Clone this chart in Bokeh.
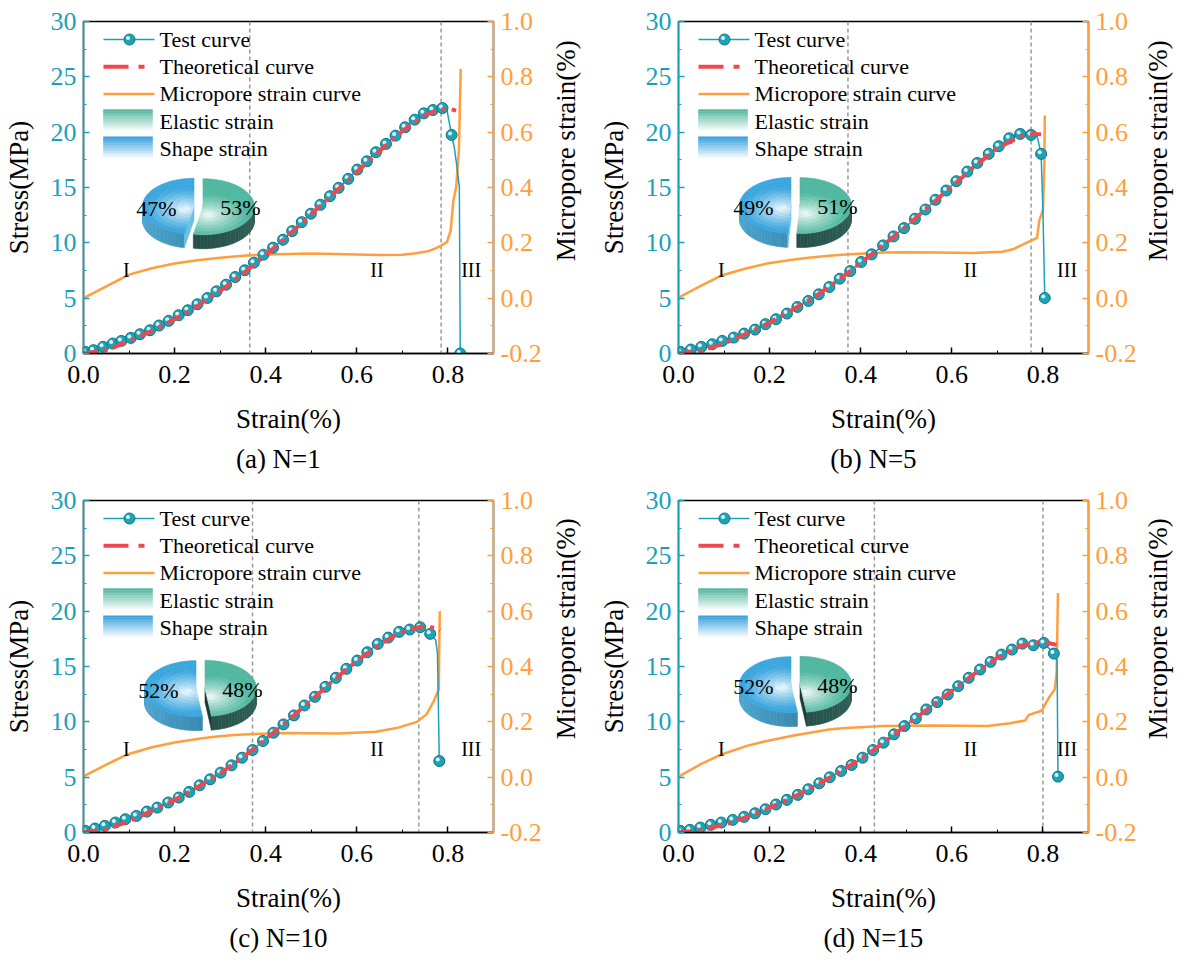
import math
import numpy as np

from bokeh.core.properties import value
from bokeh.embed import file_html
from bokeh.layouts import gridplot
from bokeh.models import (LinearAxis, PrintfTickFormatter, Range1d,
                          SingleIntervalTicker, Span, Title)
from bokeh.plotting import figure
from bokeh.resources import INLINE

FONT = "Liberation Serif"
TEAL = "#1b9fbd"
ORANGE = "#ff9e3d"
RED = "#ef474f"
MARK = "#1ea2b6"
MARK_EDGE = "#0d7688"

# ------------------------------------------------------------------ data
captions = ["(a) N=1", "(b) N=5", "(c) N=10", "(d) N=15"]
shape_share = [47, 49, 52, 52]
elastic_share = [53, 51, 48, 48]
stage_bounds = [[0.365, 0.785], [0.372, 0.774], [0.371, 0.736], [0.430, 0.800]]
stage_names = ["I", "II", "III"]
stage_label_x = [[0.094, 0.644, 0.851], [0.094, 0.641, 0.853],
                 [0.094, 0.644, 0.851], [0.094, 0.641, 0.853]]
stage_label_y = 7.55

# (a) N=1
test_strain_a = [0.004, 0.022, 0.043, 0.064, 0.083, 0.104, 0.124, 0.146, 0.166, 0.187,
                 0.209, 0.229, 0.250, 0.272, 0.292, 0.313, 0.333, 0.354, 0.374, 0.395,
                 0.416, 0.438, 0.458, 0.479, 0.499, 0.520, 0.541, 0.560, 0.581, 0.601,
                 0.622, 0.642, 0.664, 0.685, 0.706, 0.727, 0.747, 0.767, 0.788, 0.808, 0.827]
test_stress_a = [0.15, 0.30, 0.60, 0.90, 1.14, 1.41, 1.74, 2.10, 2.53, 2.95,
                 3.46, 3.91, 4.45, 5.02, 5.62, 6.22, 6.91, 7.52, 8.21, 8.93,
                 9.56, 10.28, 11.06, 11.87, 12.63, 13.44, 14.22, 14.97, 15.78, 16.62,
                 17.37, 18.19, 18.94, 19.69, 20.44, 21.13, 21.70, 22.00, 22.18, 19.75, 0.0]
drop_strain_a = [0.798, 0.814, 0.820, 0.825]
drop_stress_a = [21.94, 18.6, 16.8, 15.0]
theory_strain_a = [0, 0.05, 0.1, 0.15, 0.2, 0.25, 0.3, 0.35, 0.4, 0.45, 0.5, 0.55,
                   0.6, 0.65, 0.7, 0.75, 0.78, 0.8, 0.818]
theory_stress_a = [0, 0.3, 1.1, 2.05, 3.1, 4.3, 5.65, 7.2, 8.9, 10.7, 12.6, 14.5,
                   16.4, 18.3, 20.1, 21.55, 22.05, 22.15, 21.95]
pore_strain_a = [0.0, 0.05, 0.1, 0.15, 0.2, 0.25, 0.3, 0.35, 0.4, 0.45, 0.5, 0.55, 0.6,
                 0.65, 0.7, 0.73, 0.757, 0.773, 0.785, 0.798, 0.806, 0.812, 0.818, 0.824, 0.828]
pore_value_a = [0.0, 0.043, 0.085, 0.108, 0.125, 0.137, 0.146, 0.153, 0.158, 0.16, 0.161,
                0.16, 0.158, 0.156, 0.157, 0.162, 0.170, 0.18, 0.19, 0.203, 0.245, 0.353,
                0.40, 0.533, 0.828]

# (b) N=5
test_strain_b = [0.004, 0.027, 0.050, 0.074, 0.096, 0.121, 0.144, 0.168, 0.191, 0.214,
                 0.238, 0.261, 0.285, 0.308, 0.331, 0.354, 0.377, 0.401, 0.424, 0.449,
                 0.472, 0.495, 0.519, 0.542, 0.564, 0.588, 0.610, 0.634, 0.656, 0.681,
                 0.703, 0.726, 0.750, 0.774, 0.796, 0.804]
test_stress_b = [0.15, 0.36, 0.60, 0.84, 1.14, 1.44, 1.80, 2.16, 2.65, 3.10,
                 3.61, 4.21, 4.75, 5.35, 6.01, 6.76, 7.45, 8.27, 8.96, 9.77,
                 10.58, 11.33, 12.17, 13.01, 13.89, 14.73, 15.57, 16.44, 17.22, 18.04,
                 18.73, 19.45, 19.84, 19.75, 18.04, 5.02]
drop_strain_b = [0.787, 0.800]
drop_stress_b = [19.69, 12.9]
theory_strain_b = [0, 0.05, 0.1, 0.15, 0.2, 0.25, 0.3, 0.35, 0.4, 0.45, 0.5, 0.55,
                   0.6, 0.65, 0.7, 0.75, 0.78, 0.796]
theory_stress_b = [0, 0.25, 0.9, 1.8, 2.8, 3.95, 5.15, 6.6, 8.2, 9.8, 11.5, 13.3,
                   15.1, 16.9, 18.55, 19.6, 19.85, 19.8]
pore_strain_b = [0.0, 0.05, 0.096, 0.15, 0.194, 0.25, 0.285, 0.33, 0.367, 0.449, 0.5,
                 0.564, 0.646, 0.711, 0.736, 0.76, 0.787, 0.792, 0.8, 0.803, 0.804]
pore_value_b = [0.002, 0.045, 0.083, 0.108, 0.125, 0.139, 0.146, 0.153, 0.158, 0.165,
                0.166, 0.165, 0.163, 0.168, 0.178, 0.197, 0.218, 0.281, 0.317, 0.473, 0.66]

# (c) N=10
test_strain_c = [0.004, 0.025, 0.047, 0.070, 0.092, 0.116, 0.139, 0.162, 0.186, 0.209,
                 0.232, 0.255, 0.278, 0.301, 0.325, 0.348, 0.371, 0.394, 0.417, 0.439,
                 0.462, 0.485, 0.508, 0.531, 0.554, 0.577, 0.601, 0.623, 0.646, 0.669,
                 0.693, 0.716, 0.739, 0.761, 0.781]
test_stress_c = [0.15, 0.36, 0.60, 0.90, 1.20, 1.50, 1.89, 2.25, 2.71, 3.16,
                 3.67, 4.27, 4.81, 5.41, 6.07, 6.76, 7.45, 8.27, 9.02, 9.77,
                 10.58, 11.48, 12.26, 13.16, 13.98, 14.79, 15.54, 16.29, 17.04, 17.61,
                 18.13, 18.34, 18.55, 17.95, 6.46]
drop_strain_c = [0.773, 0.777]
drop_stress_c = [17.4, 16.2]
theory_strain_c = [0, 0.05, 0.1, 0.15, 0.2, 0.25, 0.3, 0.35, 0.4, 0.45, 0.5, 0.55,
                   0.6, 0.65, 0.7, 0.74, 0.76, 0.783]
theory_stress_c = [0, 0.3, 1.0, 1.95, 2.95, 4.1, 5.35, 6.8, 8.45, 10.15, 11.95, 13.8,
                   15.5, 17.0, 18.15, 18.6, 18.6, 18.3]
pore_strain_c = [0.0, 0.05, 0.094, 0.15, 0.2, 0.25, 0.282, 0.33, 0.364, 0.446, 0.5,
                 0.56, 0.642, 0.691, 0.732, 0.753, 0.769, 0.78, 0.781, 0.782]
pore_value_c = [0.003, 0.045, 0.081, 0.108, 0.125, 0.138, 0.145, 0.152, 0.155, 0.160,
                0.159, 0.158, 0.164, 0.179, 0.2, 0.227, 0.275, 0.317, 0.473, 0.60]

# (d) N=15
test_strain_d = [0.004, 0.025, 0.048, 0.071, 0.094, 0.119, 0.144, 0.168, 0.191, 0.214,
                 0.238, 0.262, 0.285, 0.309, 0.332, 0.357, 0.380, 0.404, 0.427, 0.450,
                 0.473, 0.496, 0.521, 0.544, 0.568, 0.591, 0.614, 0.637, 0.662, 0.685,
                 0.709, 0.732, 0.755, 0.779, 0.802, 0.824, 0.833]
test_stress_d = [0.15, 0.24, 0.45, 0.69, 0.90, 1.14, 1.41, 1.74, 2.10, 2.53,
                 2.95, 3.40, 3.91, 4.45, 4.99, 5.56, 6.10, 6.76, 7.45, 8.12,
                 8.87, 9.62, 10.31, 11.12, 11.78, 12.47, 13.22, 13.98, 14.73, 15.42,
                 16.08, 16.53, 17.07, 16.92, 17.13, 16.17, 5.05]
drop_strain_d = [0.831]
drop_stress_d = [15.5]
theory_strain_d = [0, 0.05, 0.1, 0.15, 0.2, 0.25, 0.3, 0.35, 0.4, 0.45, 0.5, 0.55,
                   0.6, 0.65, 0.7, 0.75, 0.79, 0.81, 0.83]
theory_stress_d = [0, 0.2, 0.7, 1.4, 2.25, 3.15, 4.2, 5.4, 6.65, 8.1, 9.7, 11.25,
                   12.8, 14.35, 15.8, 16.85, 17.2, 17.15, 16.95]
pore_strain_d = [0.0, 0.05, 0.096, 0.15, 0.194, 0.25, 0.285, 0.33, 0.367, 0.449, 0.564,
                 0.678, 0.728, 0.761, 0.769, 0.797, 0.814, 0.826, 0.83, 0.833]
pore_value_d = [0.002, 0.048, 0.083, 0.113, 0.131, 0.150, 0.160, 0.172, 0.178, 0.185,
                0.187, 0.185, 0.195, 0.205, 0.225, 0.240, 0.29, 0.317, 0.377, 0.666]

panels = [
    (test_strain_a, test_stress_a, drop_strain_a, drop_stress_a,
     theory_strain_a, theory_stress_a, pore_strain_a, pore_value_a),
    (test_strain_b, test_stress_b, drop_strain_b, drop_stress_b,
     theory_strain_b, theory_stress_b, pore_strain_b, pore_value_b),
    (test_strain_c, test_stress_c, drop_strain_c, drop_stress_c,
     theory_strain_c, theory_stress_c, pore_strain_c, pore_value_c),
    (test_strain_d, test_stress_d, drop_strain_d, drop_stress_d,
     theory_strain_d, theory_stress_d, pore_strain_d, pore_value_d),
]

# ------------------------------------------------------------------ layout
FW, FH = 410, 332
RB = 55                      # right border that holds the right-hand tick labels
# left, top, bottom borders of each panel
borders = [(78, 21, 123), (81, 21, 123), (78, 21, 131), (81, 21, 131)]
# strip to the right of each panel that carries the right-hand title
side_width = [47, 44, 47, 44]
side_text_x = [17.7, 14.7, 17.7, 14.7]
# pie centre, pixels from the frame's top-left corner
pie_pos = [(115, 185), (117, 184), (117, 188), (117, 184)]


def mix(c1, c2, t):
    t = min(max(t, 0.0), 1.0)
    a = [int(c1[i:i + 2], 16) for i in (1, 3, 5)]
    b = [int(c2[i:i + 2], 16) for i in (1, 3, 5)]
    return "#%02x%02x%02x" % tuple(round(a[i] + (b[i] - a[i]) * t) for i in range(3))


def dx(px):
    return px / FW * 0.9


def dy(py):
    return 30 - py / FH * 30


def draw_pie(p, cx, cy, share):
    a, b, depth, gap = 51.5, 28.0, 14.0, 4.5
    split = 90 + 3.6 * share
    slices = [
        (90.0, split, "#3aa6de", ("#4aa3cc", "#2b7196"), "#6cc0e6", (-0.18, -0.12)),
        (split, 450.0, "#4fb79f", ("#1c413b", "#2d5c55"), "#1a3c36", (0.12, -0.30)),
    ]
    xs, ys, cols = [], [], []
    for t0, t1, edge, wall, face, hl in slices:
        mid = math.radians((t0 + t1) / 2)
        ox = cx + gap * math.cos(mid)
        oy = cy - gap * (b / a) * math.sin(mid)

        def pt(r, t):
            return ox + r * a * math.cos(t), oy - r * b * math.sin(t)

        # outer wall, only the front half shows
        w0, w1 = max(t0, 180.0), min(t1, 360.0)
        if w1 > w0:
            n = int((w1 - w0) / 4) + 1
            ts = np.radians(np.linspace(w0, w1, n + 1))
            for i in range(n):
                (x0, y0), (x1, y1) = pt(1, ts[i]), pt(1, ts[i + 1])
                xs.append([x0, x1, x1, x0])
                ys.append([y0, y1, y1 + depth, y0 + depth])
                cols.append(mix(wall[0], wall[1], ((x0 + x1) / 2 - (cx - a)) / (2 * a)))
        # cut faces turned towards the viewer
        for t, sgn in ((t1, 1), (t0, -1)):
            if math.sin(math.radians(t + sgn * 90)) < -0.05:
                ex, ey = pt(1, math.radians(t))
                xs.append([ox, ex, ex, ox])
                ys.append([oy, ey, ey + depth, oy + depth])
                cols.append(face)
        # top face with a soft highlight
        nr, nt = 9, int((t1 - t0) / 5) + 1
        rs = np.linspace(0, 1, nr + 1)
        ts = np.radians(np.linspace(t0, t1, nt + 1))
        for i in range(nr):
            for j in range(nt):
                q = [pt(rs[i], ts[j]), pt(rs[i + 1], ts[j]), pt(rs[i + 1], ts[j + 1]), pt(rs[i], ts[j + 1])]
                xs.append([c[0] for c in q])
                ys.append([c[1] for c in q])
                rm, tm = (rs[i] + rs[i + 1]) / 2, (ts[j] + ts[j + 1]) / 2
                d = math.hypot(rm * math.cos(tm) - hl[0], rm * math.sin(tm) - hl[1])
                cols.append(mix("#ffffff", edge, (d / 0.75) ** 0.75))
    p.patches([[dx(v) for v in x] for x in xs], [[dy(v) for v in y] for y in ys],
              fill_color=cols, line_color=cols, line_width=0.6)
    p.text(x=[dx(cx - 42), dx(cx + 42)], y=[dy(cy + 2), dy(cy + 1)],
           text=["%d%%" % share, "%d%%" % (100 - share)],
           text_font=value(FONT), text_font_size=value("22px"),
           text_align="center", text_baseline="middle", text_color="black")


def draw_legend(p):
    rows = [18 + 27.2 * i for i in range(5)]
    p.line([dx(20), dx(71)], [dy(rows[0])] * 2, line_color=TEAL, line_width=1.5)
    p.scatter([dx(46)], [dy(rows[0])], size=11, fill_color=MARK, line_color=MARK_EDGE)
    p.scatter([dx(44.5)], [dy(rows[0] - 1.5)], size=4, fill_color="#d9f6fa", line_color=None)
    p.line([dx(20), dx(71)], [dy(rows[1])] * 2, line_color=RED, line_width=4, line_dash="25 10 6 10")
    p.line([dx(20), dx(71)], [dy(rows[2])] * 2, line_color=ORANGE, line_width=2.5)
    for row, top in ((rows[3], "#57b8a1"), (rows[4], "#38a1de")):
        n = 14
        for k in range(n):
            y0 = row - 11.5 + 23 * k / n
            y1 = row - 11.5 + 23 * (k + 1) / n
            c = mix(top, "#ffffff", k / (n - 1))
            p.quad(left=[dx(20)], right=[dx(69)], top=[dy(y0)], bottom=[dy(y1)],
                   fill_color=c, line_color=c, line_width=0.5)
    p.text(x=[dx(76)] * 5, y=[dy(r) for r in rows],
           text=["Test curve", "Theoretical curve", "Micropore strain curve",
                 "Elastic strain", "Shape strain"],
           text_font=value(FONT), text_font_size=value("22px"),
           text_baseline="middle", text_align="left", text_color="black")


def style_axis(ax, color):
    ax.major_label_text_font = FONT
    ax.major_label_text_font_size = "26px"
    ax.major_label_text_color = color
    ax.axis_label_text_font = FONT
    ax.axis_label_text_font_size = "27px"
    ax.axis_label_text_font_style = "normal"
    ax.axis_label_text_color = "black"
    ax.major_tick_in, ax.major_tick_out = 6, 0
    ax.minor_tick_in, ax.minor_tick_out = 3, 0
    ax.axis_line_color = color
    ax.axis_line_width = 1.5
    ax.major_tick_line_color = color
    ax.major_tick_line_width = 1.5
    ax.minor_tick_line_color = color
    ax.major_label_standoff = 7


def make_panel(k):
    (ts, tv, ds, dv, hs, hv, ps, pv) = panels[k]
    bl, bt, bb = borders[k]
    p = figure(frame_width=FW, frame_height=FH, x_range=Range1d(0, 0.9), y_range=Range1d(0, 30),
               output_backend="svg", toolbar_location=None, title=None,
               min_border_left=bl, min_border_right=RB, min_border_top=bt, min_border_bottom=bb,
               x_axis_label="Strain(%)", y_axis_label="Stress(MPa)")
    p.extra_y_ranges = {"pore": Range1d(-0.2, 1.0)}
    p.xgrid.grid_line_color = None
    p.ygrid.grid_line_color = None
    p.outline_line_color = "black"
    p.outline_line_width = 1.5

    style_axis(p.xaxis[0], "black")
    p.xaxis.ticker = SingleIntervalTicker(interval=0.2, num_minor_ticks=2)
    p.xaxis.formatter = PrintfTickFormatter(format="%.1f")
    p.xaxis.major_label_standoff = 12
    p.xaxis.axis_label_standoff = 18

    style_axis(p.yaxis[0], TEAL)
    p.yaxis.ticker = SingleIntervalTicker(interval=5, num_minor_ticks=2)
    p.yaxis.formatter = PrintfTickFormatter(format="%d")
    p.yaxis.axis_label_standoff = 14

    right = LinearAxis(y_range_name="pore",
                       ticker=SingleIntervalTicker(interval=0.2, num_minor_ticks=2),
                       formatter=PrintfTickFormatter(format="%.1f"))
    style_axis(right, ORANGE)
    p.add_layout(right, "right")

    for s in stage_bounds[k]:
        p.add_layout(Span(location=s, dimension="height", line_color="#9a9a9a",
                          line_width=1.5, line_dash="4 3", level="underlay"))

    p.line(ps, pv, y_range_name="pore", line_color=ORANGE, line_width=2.5)

    pts = sorted(zip(list(ts) + list(ds), list(tv) + list(dv)))
    p.line([q[0] for q in pts], [q[1] for q in pts], line_color=TEAL, line_width=1.5)
    p.scatter(ts, tv, size=11, fill_color=MARK, line_color=MARK_EDGE, line_width=1)
    p.scatter([x - dx(1.5) for x in ts], [y + 1.5 / FH * 30 for y in tv], size=4,
              fill_color="#d9f6fa", line_color=None)
    p.line(hs, hv, line_color=RED, line_width=4, line_dash="14 6 4 6")

    p.text(x=stage_label_x[k], y=[stage_label_y] * 3, text=stage_names,
           text_font=value(FONT), text_font_size=value("20px"),
           text_align="center", text_baseline="middle", text_color="black")

    draw_legend(p)
    draw_pie(p, pie_pos[k][0], pie_pos[k][1], shape_share[k])

    # caption sits a little left of the frame centre, as in the source figure
    p.add_layout(Title(text=captions[k] + "\u00a0" * 3, align="center", standoff=11,
                       text_font=FONT, text_font_size="27px", text_font_style="normal",
                       text_color="black"), "below")
    return p


def make_side(k):
    bl, bt, bb = borders[k]
    w, h = side_width[k], bt + FH + bb
    s = figure(width=w, height=h, x_range=Range1d(0, w), y_range=Range1d(h, 0),
               output_backend="svg", toolbar_location=None, title=None,
               x_axis_location=None, y_axis_location=None, min_border=0)
    s.outline_line_color = None
    s.xgrid.visible = False
    s.ygrid.visible = False
    s.text(x=[side_text_x[k]], y=[bt + FH / 2], text=["Micropore strain(%)"], angle=math.pi / 2,
           text_font=value(FONT), text_font_size=value("27px"),
           text_align="center", text_baseline="middle", text_color="black")
    return s


figs = [make_panel(k) for k in range(4)]
sides = [make_side(k) for k in range(4)]
grid = gridplot([[figs[0], sides[0], figs[1], sides[1]],
                 [figs[2], sides[2], figs[3], sides[3]]], toolbar_location=None)

open("out.html", "w").write(file_html(grid, INLINE))
